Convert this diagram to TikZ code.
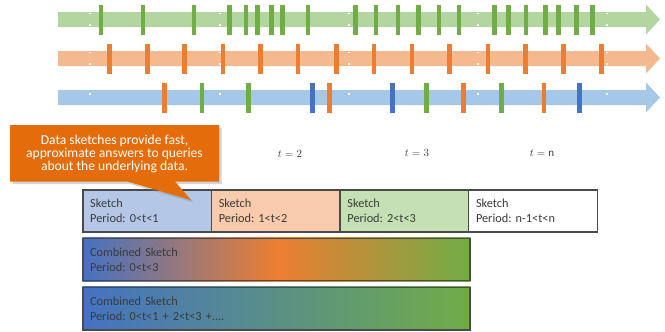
\documentclass[tikz,border=0pt]{standalone}
\usepackage{fontspec}
\setmainfont{Carlito}
\usetikzlibrary{shadows,backgrounds}
\definecolor{arG}{HTML}{B3D5A0}
\definecolor{arO}{HTML}{F4B98F}
\definecolor{arB}{HTML}{A6C8E8}
\definecolor{tkG}{HTML}{70AD47}
\definecolor{tkO}{HTML}{ED7D31}
\definecolor{tkB}{HTML}{4472C4}
\definecolor{callO}{HTML}{E46C0A}
\definecolor{bxB}{HTML}{B4C7E7}
\definecolor{bxO}{HTML}{F8CBAD}
\definecolor{bxG}{HTML}{C5E0B4}
\definecolor{bord}{HTML}{4A4A4A}
\definecolor{txt}{HTML}{3A3A3A}
\tikzset{
  sk/.style={draw=bord, line width=1.4pt, minimum width=128.5pt, minimum height=42pt,
    text width=114pt, inner xsep=7pt, inner ysep=0pt, align=left, text=txt,
    font=\fontsize{12.3}{15}\selectfont},
  comb/.style={sk, minimum width=387pt, text width=373pt, minimum height=42.4pt},
  tlabel/.style={text=txt, font=\fontsize{11}{13}\selectfont, inner sep=0pt},
  callshape/.style={fill=callO,
    drop shadow={shadow xshift=2.5pt, shadow yshift=-2.5pt, opacity=0.35}},
  calltext/.style={text=white, align=center, inner sep=0pt,
    font=\fontsize{13.6}{12.6}\selectfont},
}
\newcommand{\arrowshape}[2]{% color, center y
  \fill[#1] (58,#2-7.5) -- (646,#2-7.5) -- (646,#2-15) -- (660,#2) -- (646,#2+15)
    -- (646,#2+7.5) -- (58,#2+7.5) -- cycle;}
\begin{document}
\frenchspacing
\begin{tikzpicture}[x=1pt,y=-1pt]
\useasboundingbox (0,0) rectangle (665,332);
% arrows
\arrowshape{arG}{19.5}
\arrowshape{arO}{58.5}
\arrowshape{arB}{97.5}
% join marks
\foreach \x in {90,219.5,349,478,607}{
  \fill[white] (\x-1,12.5) rectangle (\x+1,14.3);
  \fill[white] (\x-1,24.2) rectangle (\x+1,26);
  \fill[white] (\x-1,51.5) rectangle (\x+1,53.3);
  \fill[white] (\x-1,63.2) rectangle (\x+1,65);
  \fill[white] (\x-1,92.5) rectangle (\x+1,94.5);
}
% green events
\foreach \x in {101,143,194,229.6,245.8,257.2,271.3,282.3,307.8,355.4,375.8,397.8,418.2,439,459,494.7,508.3,526.1,545.7,558.4,576.3,592.4}
  \fill[tkG] (\x-2.3,4.5) rectangle (\x+2.3,34.5);
% orange events
\foreach \x in {109.3,147.2,184.6,222.8,260.2,298,336.2,374,411.8,449.7,487.9,525.3,563.5,601.3}
  \fill[tkO] (\x-2.3,43.5) rectangle (\x+2.3,73.5);
% mixed events
\foreach \x/\c in {164.2/tkO,202/tkG,248.7/tkG,312.5/tkB,329.4/tkO,392.3/tkB,426.7/tkG,463.3/tkO,501.5/tkG,544/tkO,579.7/tkB}
  \fill[\c] (\x-2.3,83) rectangle (\x+2.3,113);
% time labels
\node[tlabel] (t2) at (290,154) {$t = 2$};
\node[tlabel] (t3) at (417,153) {$t = 3$};
\node[tlabel] (tn) at (542,153) {$t = \mathrm{n}$};
% sketches
\node[sk, fill=bxB] (s1) at (147.2,211) {Sketch\\Period: 0<t<1};
\node[sk, fill=bxO] (s2) at (275.8,211) {Sketch\\Period: 1<t<2};
\node[sk, fill=bxG] (s3) at (404.4,211) {Sketch\\Period: 2<t<3};
\node[sk, fill=white] (s4) at (533,211) {Sketch\\Period: n-1<t<n};
% combined sketches
\node[comb] (c1) at (276.5,259.5) {Combined Sketch\\Period: 0<t<3};
\node[comb] (c2) at (276.5,308.8) {Combined Sketch\\Period: 0<t<1 + 2<t<3 +....};
\begin{scope}[on background layer]
  \shade[left color=tkB, right color=tkO] (c1.north west) rectangle (c1.south);
  \shade[left color=tkO, right color=tkG] (c1.south) rectangle (c1.north east);
  \shade[left color=tkB, right color=tkG] (c2.north west) rectangle (c2.south east);
\end{scope}
% callout
\fill[callshape] (10,125) -- (219,125) -- (219,181.7) -- (175,181.7) -- (191,200)
  -- (128,181.7) -- (10,181.7) -- cycle;
\node[calltext] (call) at (114.5,154)
  {Data sketches provide fast,\\approximate answers to queries\\about the underlying data.};
\end{tikzpicture}
\end{document}
